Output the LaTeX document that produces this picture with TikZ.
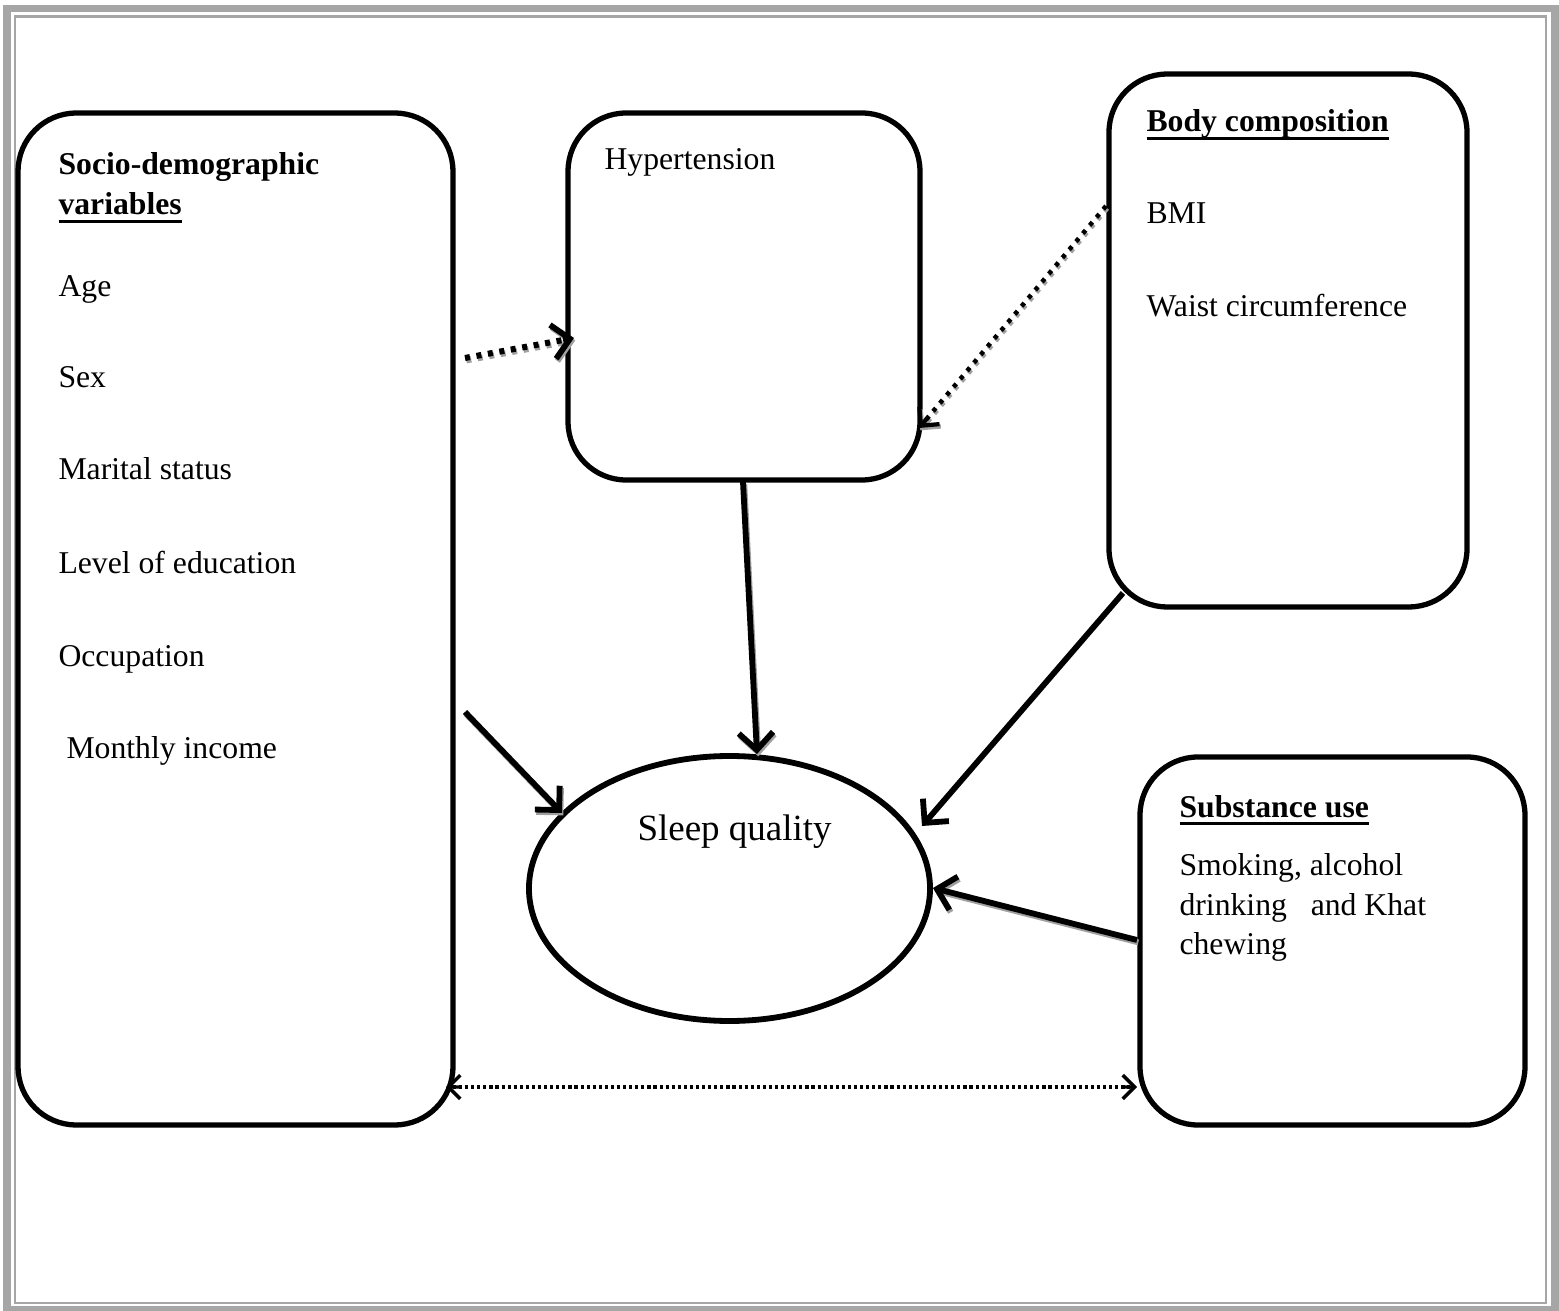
\documentclass[tikz,border=0pt]{standalone}
\usepackage{fontspec}
\setmainfont{Liberation Serif}
\usetikzlibrary{arrows.meta,shapes.geometric,calc}
\newcommand\myul[1]{\setbox0\hbox{#1}\rlap{\rule[-3.2pt]{\wd0}{1.25pt}}\box0}
\definecolor{framegray}{HTML}{A6A6A6}
\definecolor{shadowgray}{HTML}{A0A0A0}
\begin{document}
\begin{tikzpicture}[x=0.3785pt,y=-0.3785pt,
  box/.style={draw, line width=2pt, rounded corners=22pt, inner sep=0pt},
  txt/.style={inner sep=0pt, anchor=base west, font=\fontsize{12}{14}\selectfont},
  hd/.style={inner sep=0pt, anchor=base west, font=\fontsize{12}{14}\selectfont\bfseries},
  arr/.style={line width=2.2pt, -{Straight Barb[length=6.5pt,width=13pt]}},
  smalltip/.style={line width=1.6pt, -{Straight Barb[length=5pt,width=10pt]}},
  shadowline/.style={shadowgray, transform canvas={shift={(0.5pt,-0.9pt)}}}]
\useasboundingbox (0,0) rectangle (1559,1311);
% page frame
\draw[framegray, line width=3pt] (7,8.5) rectangle (1555,1310);
\draw[framegray, line width=0.9pt] (15,16.5) rectangle (1546,1303);
% boxes
\node[box, minimum width=164.6pt, minimum height=383.0pt] (socio) at (235.5,619) {};
\node[box, minimum width=133.2pt, minimum height=138.9pt] (hyp) at (744,296.5) {};
\node[box, minimum width=135.5pt, minimum height=201.7pt] (body) at (1288,340.5) {};
\node[box, minimum width=145.7pt, minimum height=139.3pt] (subst) at (1332.5,941) {};
\node[draw, ellipse, line width=2.2pt, inner sep=0pt, minimum width=151.8pt, minimum height=100.3pt] (sleep) at (729.5,888.5) {};
% texts
\node[hd] (t1) at (58,175) {Socio-demographic};
\node[hd] (t2) at (58,215) {\myul{variables}};
\node[txt] (t3) at (58,297) {Age};
\node[txt] (t4) at (58,388) {Sex};
\node[txt] (t5) at (58,480) {Marital status};
\node[txt] (t6) at (58,573) {Level of education};
\node[txt] (t7) at (58,666) {Occupation};
\node[txt] (t8) at (66,758) {Monthly income};
\node[txt] (h1) at (604,170) {Hypertension};
\node[hd] (b1) at (1146,132) {\myul{Body composition}};
\node[txt] (b2) at (1146,224) {BMI};
\node[txt] (b3) at (1146,317) {Waist circumference};
\node[hd] (s1) at (1179,817) {\myul{Substance use}};
\node[txt] (s2) at (1179,875) {Smoking, alcohol};
\node[txt] (s3) at (1179,915) {drinking\ \ \ and Khat};
\node[txt] (s4) at (1179,954) {chewing};
\node[inner sep=0pt, anchor=base west, font=\fontsize{14}{16}\selectfont] (q1) at (637,840) {Sleep quality};
% connector end points
\coordinate (a1s) at (465,358);
\coordinate (a1e) at (574,338);
\coordinate (a2s) at (1106,206);
\coordinate (a2e) at (919,428);
\coordinate (a3s) at (743,482);
\coordinate (a3e) at (757,754);
\coordinate (a4s) at (465,712);
\coordinate (a4e) at (562,813);
\coordinate (a5s) at (1123,593);
\coordinate (a5e) at (922,826);
\coordinate (a6s) at (1137,940);
\coordinate (a6e) at (933,888);
\coordinate (a7s) at (446,1087);
\coordinate (a7e) at (1137,1087);
% shadows
\draw[shadowline, line width=2.3pt, dash pattern=on 1.9pt off 2.5pt] (a1s) -- ($(a1s)!0.96!(a1e)$);
\draw[shadowline, arr] ($(a1s)!0.9!(a1e)$) -- (a1e);
\draw[shadowline, line width=1.7pt, dash pattern=on 1.6pt off 2.4pt] (a2s) -- ($(a2s)!0.97!(a2e)$);
\draw[shadowline, smalltip] ($(a2s)!0.95!(a2e)$) -- (a2e);
\draw[shadowline, arr] (a3s) -- (a3e);
\draw[shadowline, arr] (a4s) -- (a4e);
\draw[shadowline, arr] (a6s) -- (a6e);
% connectors
\draw[line width=2.3pt, dash pattern=on 1.9pt off 2.5pt] (a1s) -- ($(a1s)!0.96!(a1e)$);
\draw[arr] ($(a1s)!0.9!(a1e)$) -- (a1e);
\draw[line width=1.7pt, dash pattern=on 1.6pt off 2.4pt] (a2s) -- ($(a2s)!0.97!(a2e)$);
\draw[smalltip] ($(a2s)!0.95!(a2e)$) -- (a2e);
\draw[arr] (a3s) -- (a3e);
\draw[arr] (a4s) -- (a4e);
\draw[arr] (a5s) -- (a5e);
\draw[arr] (a6s) -- (a6e);
\draw[line width=1.3pt, dash pattern=on 1.2pt off 1.1pt] ($(a7s)!0.01!(a7e)$) -- ($(a7s)!0.99!(a7e)$);
\draw[line width=1.3pt, {Straight Barb[length=4.5pt,width=9pt]}-] (a7s) -- ($(a7s)!0.02!(a7e)$);
\draw[line width=1.3pt, -{Straight Barb[length=4.5pt,width=9pt]}] ($(a7s)!0.98!(a7e)$) -- (a7e);
\end{tikzpicture}
\end{document}
